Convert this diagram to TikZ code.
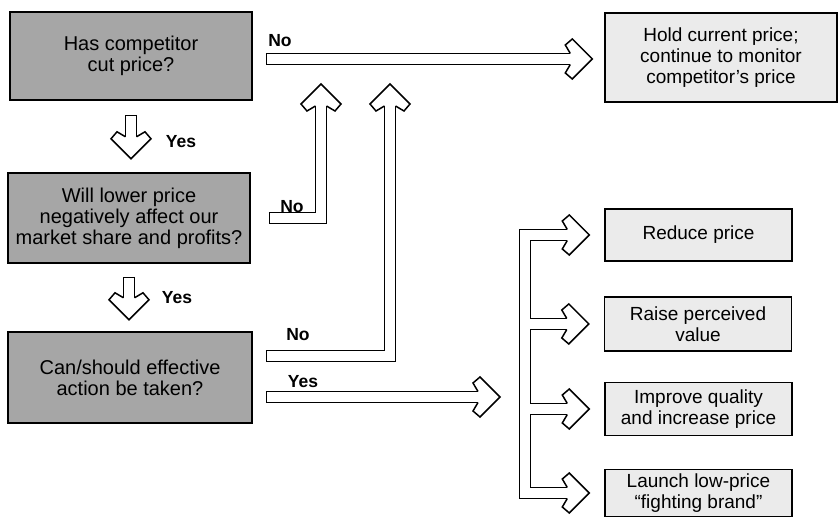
\documentclass[tikz,border=0pt]{standalone}
\usepackage{fontspec}
\setmainfont{Liberation Sans}
\usepackage{tikz}
\usetikzlibrary{positioning}
\usetikzlibrary{calc}
\tikzset{ask/.style={draw, line width=1.6pt, fill=black!35, inner sep=0pt,
    align=center, font=\fontsize{20}{21}\selectfont}}
\tikzset{act/.style={draw, line width=1.4pt, fill=black!8, inner sep=0pt,
    minimum width=187pt, minimum height=53pt, align=center,
    font=\fontsize{19}{21}\selectfont}}
\tikzset{lbl/.style={font=\bfseries\fontsize{17.5}{19}\selectfont, inner sep=0pt}}
\tikzset{outline/.style={line width=12.5pt, line join=miter}}
\tikzset{hollow/.style={line width=9.5pt, white, line join=miter}}
\tikzset{bhead/.pic={
    \fill[white] (-22,5.5) -- (-27,14) -- (-20,20) -- (0,0) -- (-20,-20)
        -- (-27,-14) -- (-22,-5.5) -- cycle;
    \draw[line width=1.5pt, line join=miter] (-22,5.5) -- (-27,14) -- (-20,20)
        -- (0,0) -- (-20,-20) -- (-27,-14) -- (-22,-5.5);
}}

\begin{document}
\begin{tikzpicture}[x=1pt, y=1pt]
   \useasboundingbox (0,0) rectangle (840,519);

   \node[ask, minimum width=242pt, minimum height=88pt] (has) at (131,463)
      {Has competitor\\cut price?};
   \node[ask, minimum width=242pt, minimum height=90pt] (will) at (129,301)
      {Will lower price\\negatively affect our\\market share and profits?};
   \node[ask, minimum width=244pt, minimum height=91pt] (can) at (130,141.5)
      {Can/should effective\\action be taken?};

   \node[act, minimum width=232pt, minimum height=89pt] (hold) at (721,461.5)
      {Hold current price;\\continue to monitor\\competitor's price};
   \node[act, minimum height=52pt] (reduce) at (698.5,284) {Reduce price};
   \node[act, minimum height=54pt] (raise) at (698,195) {Raise perceived\\value};
   \node[act] (improve) at (698.5,110) {Improve quality\\and increase price};
   \node[act, minimum height=47pt] (launch) at (698.5,26) {Launch low-price\\``fighting brand''};

   \coordinate (nostart) at ([xshift=13pt,yshift=-3pt]has.east);
   \coordinate (noA) at (321,435);
   \coordinate (noB) at (390,435);
   \coordinate (fork) at (525,122);

   \node[lbl] (no1) at (280,478) {No};
   \node[lbl] (yes1) at (181,377) {Yes};
   \node[lbl] (no2) at (292,312) {No};
   \node[lbl] (yes2) at (177,221) {Yes};
   \node[lbl] (no3) at (298,184) {No};
   \node[lbl] (yes3) at (303,137) {Yes};

   \draw[outline] (nostart) -- ($(hold.west |- nostart)+(-34,0)$);
   \draw[outline] ([yshift=-14pt]has.south) -- ([yshift=-36pt]has.south);
   \draw[outline] ([yshift=-13pt]will.south) -- ([yshift=-34pt]will.south);
   \draw[outline] ([xshift=18pt]will.east) -| ([yshift=-22pt]noA);
   \draw[outline] ([xshift=13pt,yshift=21.5pt]can.east) -| ([yshift=-22pt]noB);
   \draw[outline] ([xshift=13pt,yshift=-19.5pt]can.east) -- ([xshift=-47pt]fork);
   \draw[outline] ([xshift=-37pt]reduce.west) -| (fork |- launch.west)
      -- ([xshift=-37pt]launch.west);
   \draw[outline] (fork |- raise.west) -- ([xshift=-37pt]raise.west);
   \draw[outline] (fork |- improve.west) -- ([xshift=-37pt]improve.west);

   \draw[hollow, shorten <=1.5pt] (nostart) -- ($(hold.west |- nostart)+(-34,0)$);
   \draw[hollow, shorten <=1.5pt] ([yshift=-14pt]has.south) -- ([yshift=-36pt]has.south);
   \draw[hollow, shorten <=1.5pt] ([yshift=-13pt]will.south) -- ([yshift=-34pt]will.south);
   \draw[hollow, shorten <=1.5pt] ([xshift=18pt]will.east) -| ([yshift=-22pt]noA);
   \draw[hollow, shorten <=1.5pt] ([xshift=13pt,yshift=21.5pt]can.east) -| ([yshift=-22pt]noB);
   \draw[hollow, shorten <=1.5pt] ([xshift=13pt,yshift=-19.5pt]can.east) -- ([xshift=-47pt]fork);
   \draw[hollow] ([xshift=-37pt]reduce.west) -| (fork |- launch.west)
      -- ([xshift=-37pt]launch.west);
   \draw[hollow] (fork |- raise.west) -- ([xshift=-37pt]raise.west);
   \draw[hollow] (fork |- improve.west) -- ([xshift=-37pt]improve.west);

   \pic at ($(hold.west |- nostart)+(-12,0)$) {bhead};
   \pic[rotate=-90] at ([yshift=-58pt]has.south) {bhead};
   \pic[rotate=-90] at ([yshift=-56pt]will.south) {bhead};
   \pic[rotate=90] at (noA) {bhead};
   \pic[rotate=90] at (noB) {bhead};
   \pic at ([xshift=-25pt]fork) {bhead};
   \foreach \n in {reduce, raise, improve, launch}
      \pic at ([xshift=-15pt]\n.west) {bhead};
\end{tikzpicture}
\end{document}
